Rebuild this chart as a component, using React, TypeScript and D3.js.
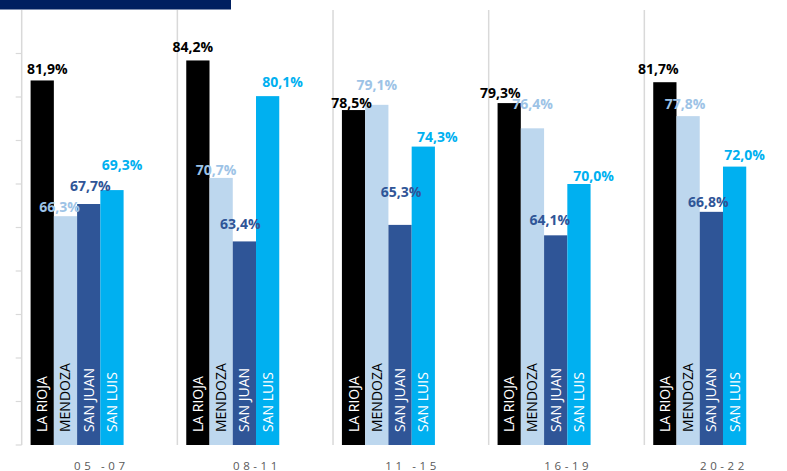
import React from "react";
import * as d3 from "d3";

const CATEGORIES = ["05 -07", "08-11", "11 -15", "16-19", "20-22"];
const SERIES = ["LA RIOJA", "MENDOZA", "SAN JUAN", "SAN LUIS"];
const LA_RIOJA = [81.9, 84.2, 78.5, 79.3, 81.7];
const MENDOZA = [66.3, 70.7, 79.1, 76.4, 77.8];
const SAN_JUAN = [67.7, 63.4, 65.3, 64.1, 66.8];
const SAN_LUIS = [69.3, 80.1, 74.3, 70.0, 72.0];
const Y_TICKS = [40, 45, 50, 55, 60, 65, 70, 75, 80, 85];

// layout / style (not data)
const COLORS = ["#000000", "#BDD7EE", "#2F5597", "#00B0F0"];
const LABEL_COLORS = ["#000000", "#9DC3E6", "#2F5597", "#00B0F0"];
const INNER_TEXT = ["#FFFFFF", "#000000", "#FFFFFF", "#FFFFFF"];
// manual label nudges [dx, dy] relative to bar centre / bar top
const LABEL_NUDGE = [
  [[5, -6.5], [-5, -8.5], [-2, -2], [-9, -5], [-6.5, -8]],
  [[-6, -4], [-5, -3], [0, -15], [0, -19], [-3, -7]],
  [[1.5, -13], [-4, -12], [1, -28], [-6, -10], [-3, -5]],
  [[10, -20], [15, -9], [14, -4.6], [14.5, -3], [10, -7]],
];

const W = 787;
const H = 471;

export default function App() {
  const values = [LA_RIOJA, MENDOZA, SAN_JUAN, SAN_LUIS];
  const plotLeft = 21.7;
  const plotRight = 800;
  const yTop = 10;
  const yBottom = 445;

  const x = d3.scaleBand<string>().domain(CATEGORIES).range([plotLeft, plotRight]).padding(0);
  const bw = x.bandwidth();
  const groupOffset = 8.9;
  const groupWidth = 93;
  const xi = d3.scaleBand<string>().domain(SERIES).range([0, groupWidth]).padding(0);
  const y = d3.scaleLinear().domain([40, 90]).range([yBottom, yTop]);

  const fmt = (v: number) => v.toFixed(1).replace(".", ",") + "%";
  const font = "'Open Sans', 'Liberation Sans', sans-serif";

  return (
    <svg
      width={W}
      height={H}
      style={{ position: "absolute", left: 0, top: 0, background: "#fff" }}
    >
      <rect x={0} y={0} width={231} height={9.5} fill="#002060" />
      {/* category separators */}
      {CATEGORIES.map((c) => (
        <line
          key={"g" + c}
          x1={x(c)!}
          x2={x(c)!}
          y1={yTop}
          y2={yBottom}
          stroke="#D9D9D9"
          strokeWidth={1.5}
        />
      ))}
      {/* y ticks */}
      {Y_TICKS.map((t) => (
        <line
          key={"t" + t}
          x1={plotLeft - 6}
          x2={plotLeft}
          y1={y(t)}
          y2={y(t)}
          stroke="#D9D9D9"
          strokeWidth={1.2}
        />
      ))}
      {/* bars */}
      {SERIES.map((s, si) =>
        CATEGORIES.map((c, ci) => {
          const bx = x(c)! + groupOffset + xi(s)!;
          const v = values[si][ci];
          return (
            <rect
              key={s + c}
              x={bx}
              y={y(v)}
              width={xi.bandwidth()}
              height={yBottom - y(v)}
              fill={COLORS[si]}
            />
          );
        })
      )}
      {/* inside rotated labels */}
      {SERIES.map((s, si) =>
        CATEGORIES.map((c, ci) => {
          const cx = x(c)! + groupOffset + xi(s)! + xi.bandwidth() / 2 + 5;
          const by = 432;
          return (
            <text
              key={"in" + s + c}
              transform={`translate(${cx},${by}) rotate(-90)`}
              fontFamily={font}
              fontSize={14}
              fill={INNER_TEXT[si]}
            >
              {s}
            </text>
          );
        })
      )}
      {/* value labels */}
      {SERIES.map((s, si) =>
        CATEGORIES.map((c, ci) => {
          const v = values[si][ci];
          const [dx, dy] = LABEL_NUDGE[si][ci];
          const cx = x(c)! + groupOffset + xi(s)! + xi.bandwidth() / 2 + dx;
          return (
            <text
              key={"lb" + s + c}
              x={cx}
              y={y(v) + dy}
              textAnchor="middle"
              fontFamily={font}
              fontWeight={700}
              fontSize={14}
              fill={LABEL_COLORS[si]}
            >
              {fmt(v)}
            </text>
          );
        })
      )}
      {/* category labels */}
      {CATEGORIES.map((c) => (
        <text
          key={"c" + c}
          x={x(c)! + bw / 2 + 1.8}
          y={469.5}
          textAnchor="middle"
          fontFamily={font}
          fontSize={11.5}
          letterSpacing={3.6}
          fill="#595959"
        >
          {c}
        </text>
      ))}
    </svg>
  );
}
